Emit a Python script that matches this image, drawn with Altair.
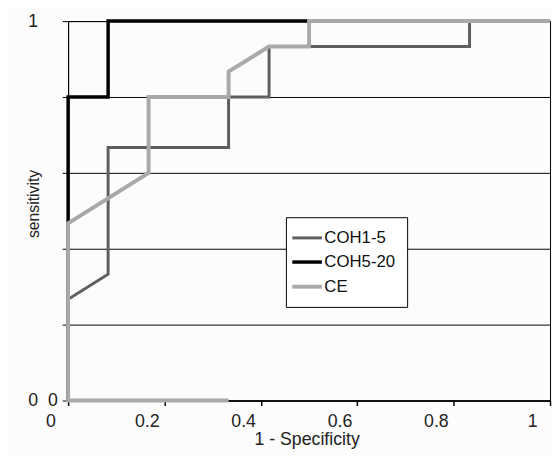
import altair as alt
import pandas as pd

series_names = ["COH1-5", "COH5-20", "CE"]
series_colors = ["#5e5e5e", "#000000", "#a9a9a9"]
series_widths = [3, 4, 3]

coh15_x = [0, 0, 0.083, 0.083, 0.333, 0.333, 0.417, 0.417, 0.833, 0.833, 1]
coh15_y = [0, 0.267, 0.333, 0.667, 0.667, 0.8, 0.8, 0.933, 0.933, 1, 1]

coh520_x = [0, 0, 0.083, 0.083, 1]
coh520_y = [0, 0.8, 0.8, 1, 1]

ce_x = [0.333, 0, 0, 0.167, 0.167, 0.333, 0.333, 0.417, 0.5, 0.5, 1]
ce_y = [0, 0, 0.467, 0.6, 0.8, 0.8, 0.867, 0.933, 0.933, 1, 1]

x_ticks = [0, 0.2, 0.4, 0.6, 0.8, 1]
y_ticks = [0, 0.2, 0.4, 0.6, 0.8, 1]

rows = []
for name, xs, ys in [("COH1-5", coh15_x, coh15_y),
                     ("COH5-20", coh520_x, coh520_y),
                     ("CE", ce_x, ce_y)]:
    for i, (xv, yv) in enumerate(zip(xs, ys)):
        rows.append({"series": name, "x": xv, "y": yv, "i": i})
df = pd.DataFrame(rows)

FONT = "Liberation Sans"
NB = "\u00a0"
EM = "\u2003"
y_label_expr = f"datum.value == 1 ? '1' : (datum.value == 0 ? '0{NB}{NB}0' : '')"

chart = alt.Chart(df).mark_line(strokeJoin="miter", strokeCap="butt").encode(
    x=alt.X("x:Q", scale=alt.Scale(domain=[0, 1], nice=False),
            axis=alt.Axis(values=x_ticks, format="g", title="1 - Specificity",
                          grid=False, domainColor="#000", domainWidth=1.5,
                          tickColor="#000", tickSize=5, tickWidth=1.5,
                          labelOffset=-18, labelPadding=7, labelFontSize=18,
                          labelColor="#222", labelFont=FONT, labelFlush=False,
                          titleFont=FONT, titleFontSize=18, titleFontWeight="normal",
                          titleColor="#222", titleX=242, titleY=40,
                          titleBaseline="middle")),
    y=alt.Y("y:Q", scale=alt.Scale(domain=[0, 1], nice=False),
            axis=alt.Axis(values=y_ticks, labelExpr=y_label_expr,
                          title="sensitivity", grid=True, gridColor="#000",
                          gridWidth=1, gridOpacity=1, domainColor="#000",
                          tickColor="#000", tickSize=6, labelAlign="left",
                          labelPadding=35, labelFontSize=18, labelColor="#222",
                          labelFont=FONT, labelFlush=False, titleFont=FONT,
                          titleFontSize=16, titleFontWeight="normal",
                          titleColor="#222", titleX=-35, titleY=185,
                          titleBaseline="middle")),
    color=alt.Color("series:N", sort=series_names,
                    scale=alt.Scale(domain=series_names, range=series_colors),
                    legend=alt.Legend(title=None, orient="none", legendX=221,
                                      legendY=199, strokeColor="#000",
                                      fillColor="#ffffff", padding=12,
                                      symbolType="M-2,0L2,0", symbolSize=225,
                                      labelFont=FONT, labelFontSize=17,
                                      labelColor="#111", labelOffset=8,
                                      rowPadding=7,
                                      labelExpr=f"datum.label + '{EM * 3}'")),
    strokeWidth=alt.StrokeWidth("series:N", sort=series_names,
                                scale=alt.Scale(domain=series_names, range=series_widths),
                                legend=alt.Legend(title=None, orient="none",
                                                  legendX=221, legendY=199)),
    order="i:Q",
    detail="series:N",
).properties(
    width=489, height=385,
    autosize="none",
    padding={"left": 61, "top": 10, "right": 2, "bottom": 52},
    background="#fcfcfc",
).configure_view(stroke="#000", strokeWidth=1)

chart.save("out.html", embed_options={"renderer": "svg", "actions": False})
